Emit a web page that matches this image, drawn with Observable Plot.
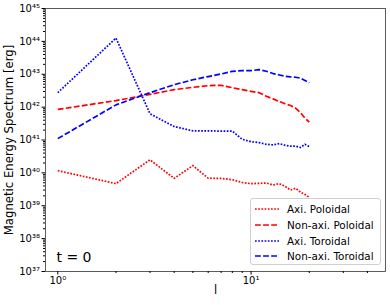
<!DOCTYPE html>
<html><head><meta charset="utf-8">
<script src="https://cdn.jsdelivr.net/npm/d3@7"></script>
<script src="https://cdn.jsdelivr.net/npm/@observablehq/plot@0.6"></script>
<style>
body{margin:0;background:#fff;}
#wrap{position:relative;width:390px;height:305px;font-family:"DejaVu Sans",sans-serif;}
#legend{position:absolute;left:250px;top:198px;width:131px;height:67px;border:1px solid #d0d0d0;border-radius:3px;background:rgba(255,255,255,0.8);box-sizing:border-box;font-size:10.4px;color:#000;}
.row{position:absolute;left:4px;height:14px;display:flex;align-items:center;white-space:nowrap;}
.row svg{margin-right:8px;}
</style></head><body><div id="wrap"></div>
<script>
const ell = [1,2,3,4,5,6,7,8,9,10,11,12,13,14,15,16,17,18,19,20];
const axiPoloidal = [1.17e40,4.7e39,2.5e40,6.8e39,1.66e40,6.9e39,6.8e39,6.2e39,5.1e39,4.7e39,4.8e39,4.9e39,4.3e39,4.7e39,3.9e39,3.0e39,3.4e39,2.6e39,2.2e39,1.8e39];
const nonAxiPoloidal = [8.5e41,1.58e42,2.45e42,3.4e42,4.0e42,4.5e42,4.6e42,3.9e42,3.4e42,3.0e42,2.75e42,2.14e42,1.78e42,1.48e42,1.26e42,1.12e42,9.3e41,6.8e41,4.6e41,3.5e41];
const axiToroidal = [2.75e42,1.26e44,6.3e41,2.57e41,1.9e41,1.9e41,1.86e41,1.86e41,1.05e41,8.9e40,8.3e40,7.4e40,7.1e40,7.8e40,6.9e40,6.5e40,6.5e40,5.9e40,7.4e40,6.3e40];
const nonAxiToroidal = [1.1e41,1.17e42,2.75e42,4.8e42,6.8e42,8.5e42,1.02e43,1.23e43,1.29e43,1.29e43,1.38e43,1.23e43,1.05e43,9.5e42,8.7e42,8.3e42,8.1e42,7.6e42,6.5e42,5.5e42];
const seriesNames = ["Axi. Poloidal","Non-axi. Poloidal","Axi. Toroidal","Non-axi. Toroidal"];
const seriesColors = ["red","red","blue","blue"];
const seriesStyles = ["dotted","dashed","dotted","dashed"];
const majorYTicks = [1e37,1e38,1e39,1e40,1e41,1e42,1e43,1e44,1e45];
const majorXTicks = [1,10];
const minorXTicks = [2,3,4,5,6,7,8,9,20,30,40];
const annotation = "t = 0";
const xLabel = "l";
const yLabel = "Magnetic Energy Spectrum [erg]";

const dashes = {dotted:"1.7,1.5", dashed:"5.8,2.3"};
const seriesValues = [axiPoloidal, nonAxiPoloidal, axiToroidal, nonAxiToroidal];
const rows = [];
seriesValues.forEach((vals, s) => vals.forEach((v, i) => rows.push({l: ell[i], E: v, s})));
const minorYTicks = [];
for (let e = 37; e < 45; e++) for (let m = 2; m <= 9; m++) minorYTicks.push(m * Math.pow(10, e));
const sup = "⁰¹²³⁴⁵⁶⁷⁸⁹";
const fmt = d => "10" + String(Math.round(Math.log10(d))).split("").map(c => sup[+c]).join("");

const plot = Plot.plot({
  width: 390, height: 305,
  marginLeft: 45, marginRight: 5, marginTop: 8, marginBottom: 34,
  style: {fontFamily: "DejaVu Sans, sans-serif", fontSize: "10px", color: "#000", background: "#fff"},
  x: {type: "log", domain: [0.864, 49.6]},
  y: {type: "log", domain: [1e37, 1e45]},
  marks: [
    ...seriesNames.map((n, s) => Plot.line(rows.filter(r => r.s === s), {
      x: "l", y: "E", stroke: seriesColors[s], strokeWidth: 1.7,
      strokeDasharray: dashes[seriesStyles[s]], strokeLinecap: "butt"
    })),
    Plot.frame({stroke: "#333", strokeWidth: 0.8}),
    Plot.axisX(majorXTicks, {tickSize: 3.5, tickPadding: 2, tickFormat: fmt, label: null, fontSize: 10}),
    Plot.axisX(minorXTicks, {tickSize: 2, tickFormat: () => "", label: null}),
    Plot.axisY(majorYTicks, {tickSize: 3.5, tickPadding: 2, tickFormat: fmt, label: null, fontSize: 10}),
    Plot.axisY(minorYTicks, {tickSize: 2, tickFormat: () => "", label: null}),
    Plot.text([annotation], {text: d => d, frameAnchor: "bottom-left", dx: 11, dy: -10, fontSize: 14, textAnchor: "start"}),
    Plot.text([yLabel], {text: d => d, frameAnchor: "left", textAnchor: "middle", rotate: -90, dx: -36, fontSize: 11.7}),
    Plot.text([xLabel], {text: d => d, frameAnchor: "bottom", dy: 22, fontSize: 11.5})
  ]
});
const wrap = document.getElementById("wrap");
wrap.appendChild(plot);
const legend = document.createElement("div");
legend.id = "legend";
seriesNames.forEach((n, s) => {
  const row = document.createElement("div");
  row.className = "row";
  row.style.top = (2.7 + s * 15.9) + "px";
  row.innerHTML = `<svg width="24" height="6"><line x1="0" x2="24" y1="3" y2="3" stroke="${seriesColors[s]}" stroke-width="1.7" stroke-dasharray="${dashes[seriesStyles[s]]}"/></svg><span>${n}</span>`;
  legend.appendChild(row);
});
wrap.appendChild(legend);
</script></body></html>
